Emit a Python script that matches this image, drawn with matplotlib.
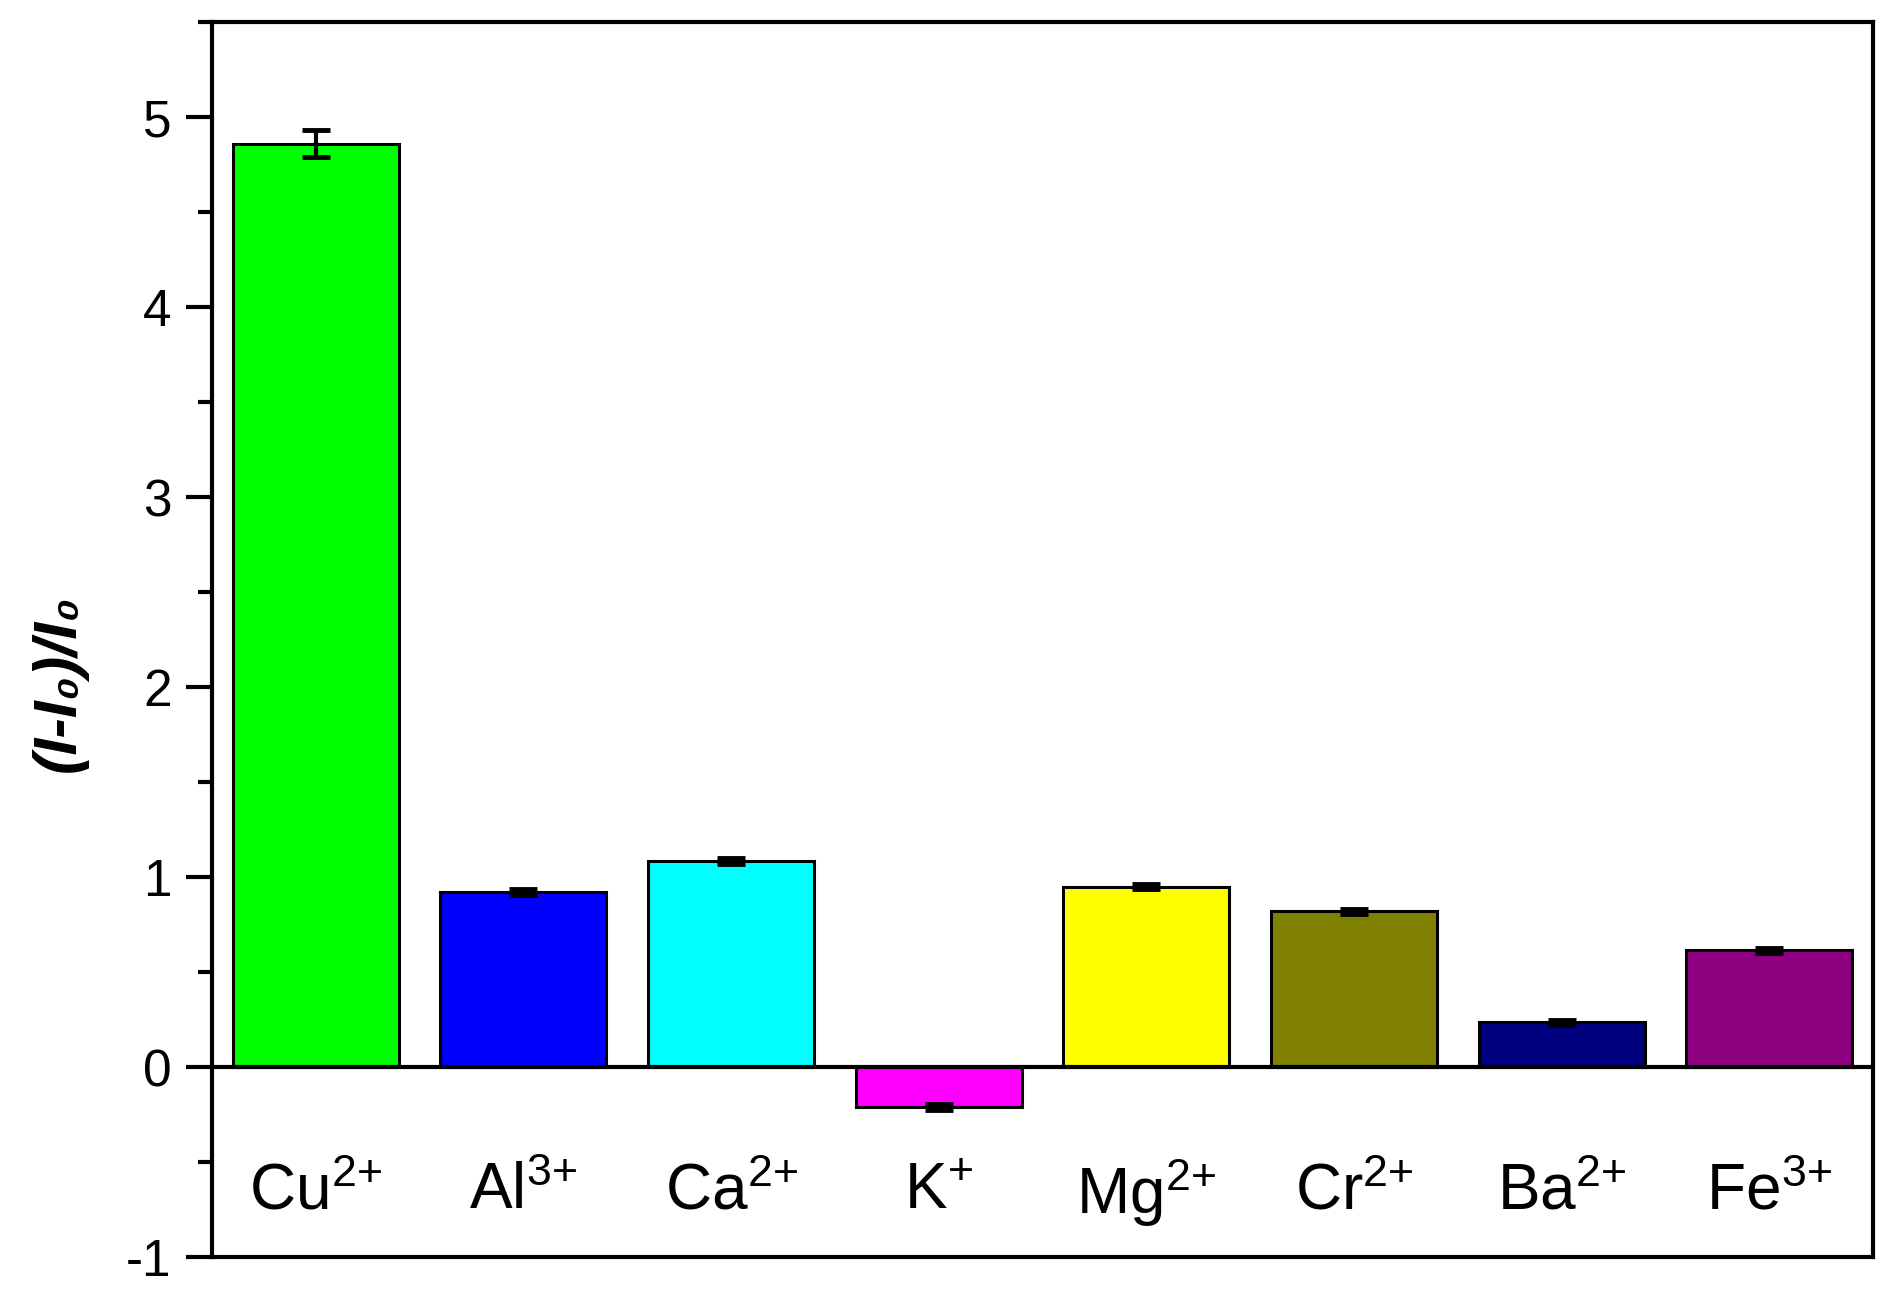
import matplotlib
matplotlib.use('Agg')
import matplotlib.pyplot as plt
from matplotlib.ticker import MultipleLocator, NullLocator

plt.rcParams['font.family'] = ['Liberation Sans', 'DejaVu Sans']
plt.rcParams['axes.unicode_minus'] = False
plt.rcParams['mathtext.fontset'] = 'custom'
plt.rcParams['mathtext.rm'] = 'Liberation Sans'
plt.rcParams['mathtext.it'] = 'Liberation Sans:italic'
plt.rcParams['mathtext.bf'] = 'Liberation Sans:bold'

# Data
ions = ['Cu', 'Al', 'Ca', 'K', 'Mg', 'Cr', 'Ba', 'Fe']
charges = ['2{+}', '3{+}', '2{+}', '{+}', '2{+}', '2{+}', '2{+}', '3{+}']
response = [4.86, 0.92, 1.085, -0.21, 0.95, 0.82, 0.235, 0.615]
errors = [0.07, 0.015, 0.015, 0.015, 0.015, 0.012, 0.015, 0.012]
colors = ['#00FF00', '#0000FF', '#00FFFF', '#FF00FF',
          '#FFFF00', '#808000', '#000080', '#8F0080']

fig = plt.figure(figsize=(18.96, 13.04), dpi=100)
ax = fig.add_axes([0.1118, 0.036, 0.8761, 0.947])

x = range(len(ions))
ax.bar(x, response, width=0.8, color=colors, edgecolor='black', linewidth=2.2,
       yerr=errors, error_kw=dict(ecolor='black', elinewidth=3, capsize=10, capthick=3.5))
ax.axhline(0, color='black', lw=3, zorder=3)

for i, (ion, ch) in enumerate(zip(ions, charges)):
    ax.text(i, -0.66, r'$\mathregular{%s^{%s}}$' % (ion, ch), ha='center', va='center',
            fontsize=46)

ax.set_xlim(-0.5, 7.5)
ax.set_ylim(-1, 5.5)
ax.xaxis.set_major_locator(NullLocator())
ax.yaxis.set_major_locator(MultipleLocator(1))
ax.yaxis.set_minor_locator(MultipleLocator(0.5))
ax.tick_params(axis='y', which='major', direction='out', length=19, width=3, labelsize=37, pad=10)
ax.tick_params(axis='y', which='minor', direction='out', length=10, width=3)

for s in ax.spines.values():
    s.set_linewidth(3)

ax.set_ylabel('(I-I\u2080)/I\u2080', fontsize=44, fontweight='bold', fontstyle='italic')
ax.yaxis.set_label_coords(-0.075, 0.465)

fig.savefig('out.png', dpi=100)
